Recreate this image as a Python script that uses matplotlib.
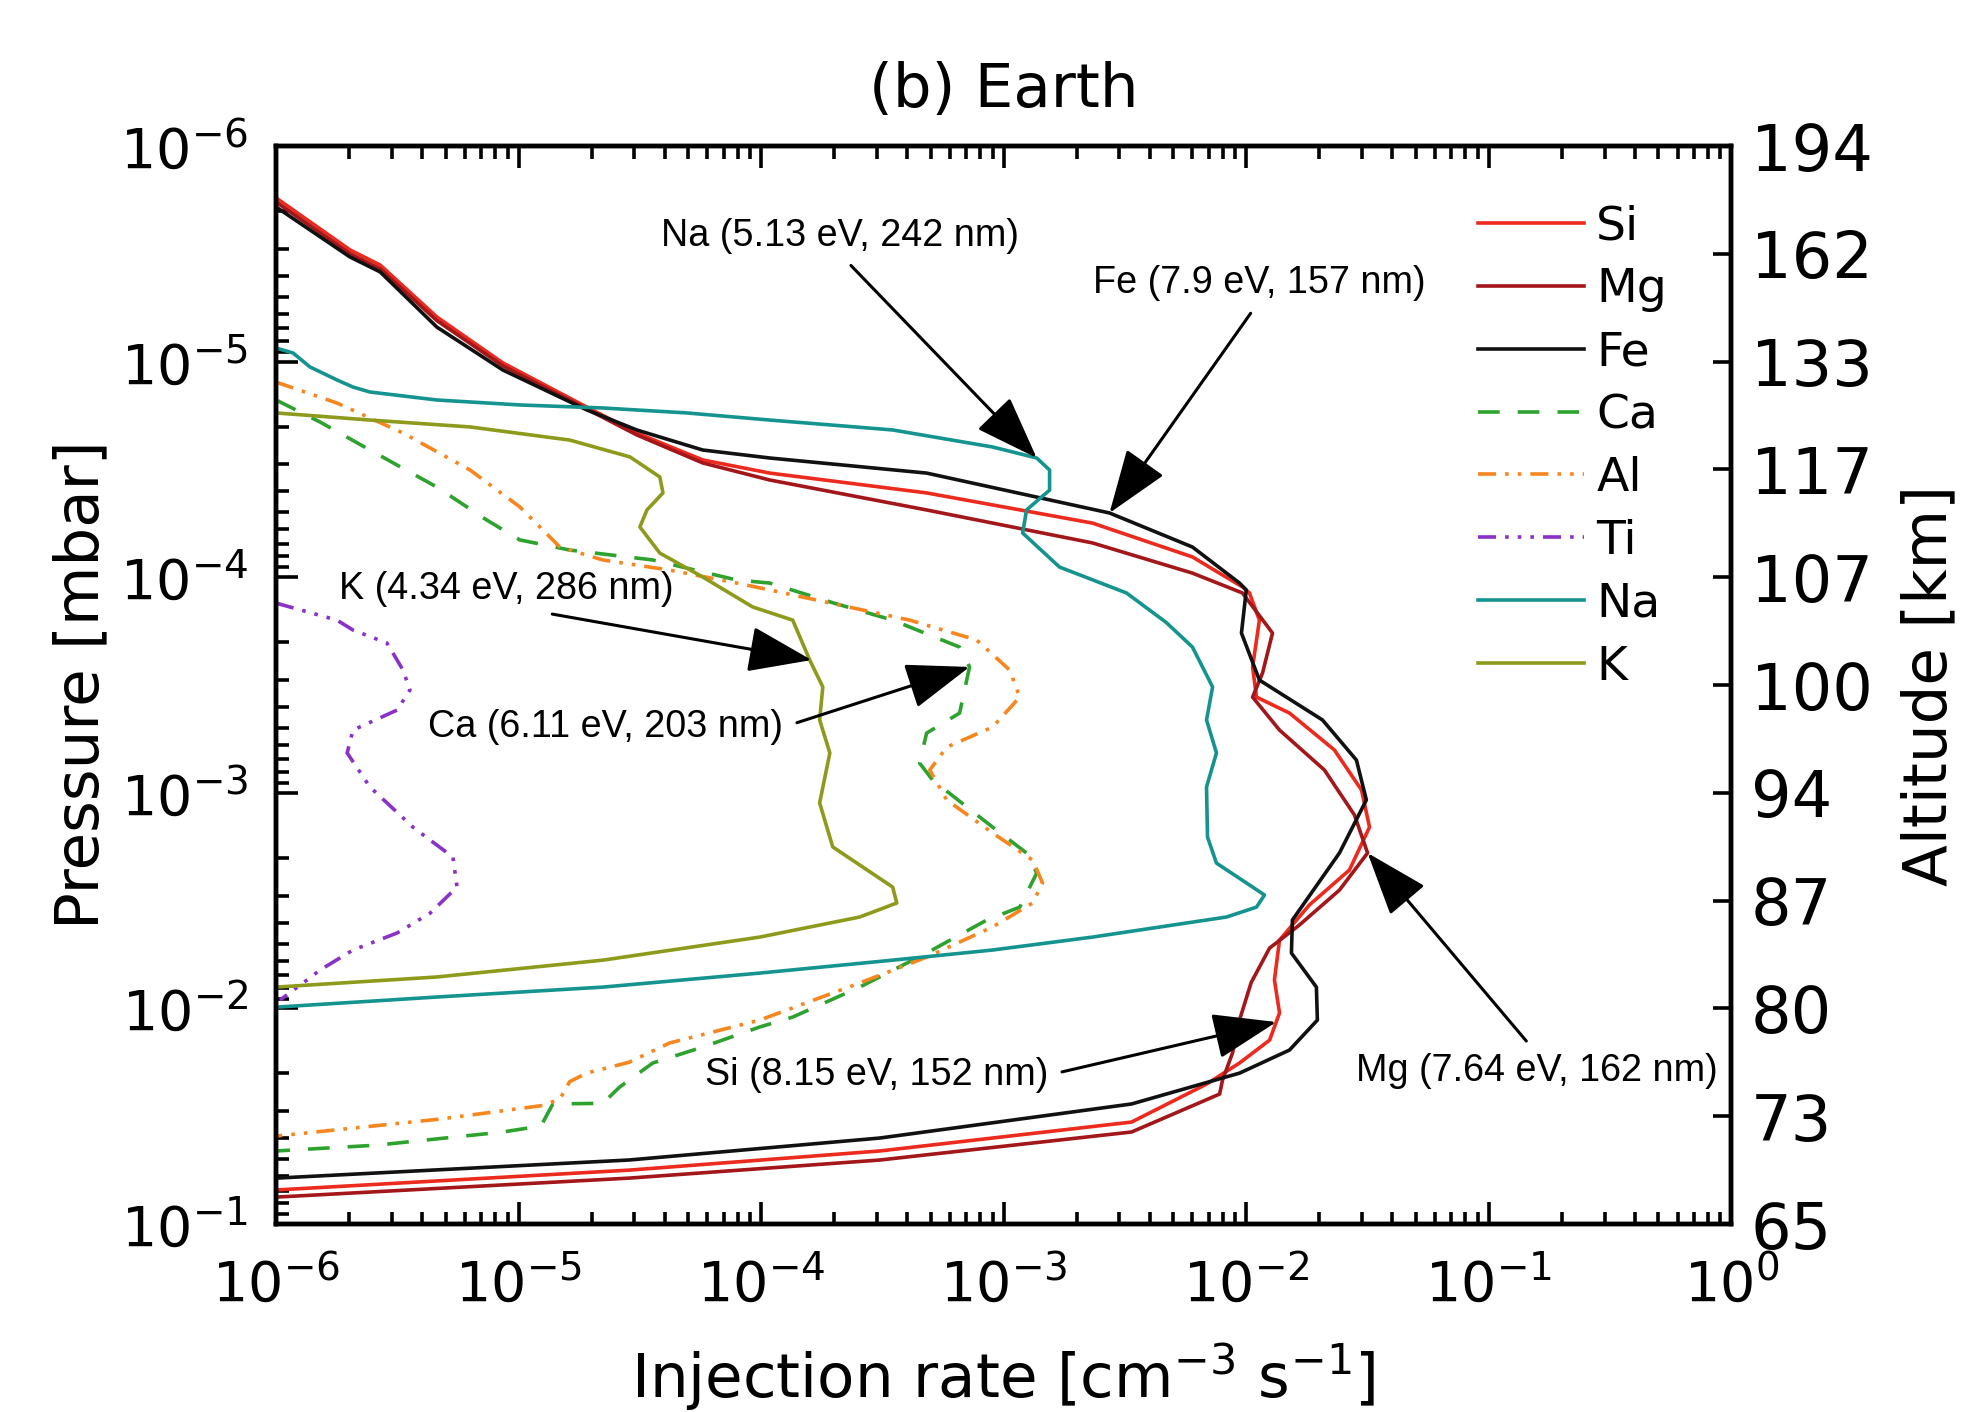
import numpy as np
import matplotlib as mpl
import matplotlib.pyplot as plt

# log10 of injection rate [cm^-3 s^-1] and log10 of pressure [mbar]
si_x = [-6.00, -5.695, -5.571, -5.337, -5.065, -4.719, -4.513, -4.241, -3.965, -3.318, -2.634, -2.222,
        -2.016, -1.987, -1.946, -1.974, -1.958, -1.822, -1.637, -1.525, -1.492, -1.575, -1.740, -1.863,
        -1.884, -1.863, -1.904, -2.028, -2.164, -2.473, -3.511, -4.546, -6.00]
si_p = [-5.759, -5.518, -5.448, -5.207, -4.994, -4.789, -4.669, -4.544, -4.483, -4.391, -4.251, -4.094,
        -3.955, -3.927, -3.801, -3.584, -3.444, -3.370, -3.199, -3.013, -2.841, -2.642, -2.480, -2.317,
        -2.132, -1.979, -1.853, -1.747, -1.649, -1.473, -1.339, -1.250, -1.158]

mg_x = [-6.00, -5.695, -5.571, -5.337, -5.065, -4.719, -4.513, -4.241, -3.965, -3.318, -2.634, -2.222,
        -2.016, -1.892, -1.933, -1.974, -1.863, -1.678, -1.554, -1.500, -1.616, -1.781, -1.904, -1.980,
        -2.028, -2.057, -2.098, -2.110, -2.473, -3.511, -4.546, -6.00]
mg_p = [-5.740, -5.500, -5.430, -5.190, -4.980, -4.780, -4.660, -4.530, -4.451, -4.312, -4.159, -4.019,
        -3.927, -3.741, -3.556, -3.444, -3.291, -3.106, -2.897, -2.721, -2.549, -2.387, -2.280, -2.120,
        -1.946, -1.793, -1.668, -1.603, -1.427, -1.297, -1.213, -1.125]

fe_x = [-6.00, -5.695, -5.571, -5.337, -5.065, -4.719, -4.513, -4.241, -3.965, -3.318, -2.564, -2.222,
        -2.028, -2.000, -2.020, -1.946, -1.686, -1.546, -1.505, -1.616, -1.810, -1.814, -1.711, -1.707,
        -1.822, -2.028, -2.473, -3.511, -4.546, -5.584, -6.00]
fe_p = [-5.717, -5.485, -5.416, -5.160, -4.961, -4.776, -4.683, -4.590, -4.553, -4.483, -4.298, -4.140,
        -3.973, -3.941, -3.741, -3.523, -3.338, -3.152, -2.967, -2.721, -2.410, -2.257, -2.099, -1.946,
        -1.807, -1.700, -1.557, -1.399, -1.297, -1.237, -1.213]

ca_x = [-6.00, -5.819, -5.613, -5.337, -5.131, -4.995, -4.789, -4.447, -4.101, -3.965, -3.700, -3.458,
        -3.182, -3.141, -3.182, -3.318, -3.347, -3.293, -3.046, -2.906, -2.864, -2.934, -3.070, -3.318,
        -3.594, -3.870, -4.006, -4.241, -4.447, -4.583, -4.653, -4.859, -4.908, -5.065, -5.584, -6.00]
ca_p = [-4.822, -4.720, -4.590, -4.418, -4.265, -4.173, -4.126, -4.080, -3.987, -3.973, -3.880, -3.801,
        -3.676, -3.584, -3.370, -3.277, -3.138, -3.059, -2.841, -2.721, -2.628, -2.470, -2.410, -2.257,
        -2.099, -1.960, -1.914, -1.821, -1.747, -1.636, -1.560, -1.557, -1.455, -1.427, -1.366, -1.339]

al_x = [-6.00, -5.749, -5.477, -5.200, -4.995, -4.830, -4.653, -4.377, -4.101, -3.965, -3.388, -3.112,
        -2.976, -2.934, -3.046, -3.235, -3.305, -3.235, -3.046, -2.881, -2.840, -2.881, -3.046, -3.318,
        -3.594, -4.006, -4.377, -4.546, -4.720, -4.790, -4.830, -4.900, -5.324, -6.00]
al_p = [-4.905, -4.808, -4.669, -4.497, -4.326, -4.140, -4.080, -4.033, -3.973, -3.941, -3.801, -3.709,
        -3.570, -3.444, -3.305, -3.212, -3.106, -2.967, -2.814, -2.688, -2.582, -2.489, -2.378, -2.238,
        -2.118, -1.946, -1.840, -1.750, -1.700, -1.660, -1.580, -1.550, -1.487, -1.408]

ti_x = [-6.00, -5.749, -5.683, -5.543, -5.477, -5.448, -5.501, -5.683, -5.707, -5.613, -5.436, -5.271,
        -5.254, -5.365, -5.501, -5.683, -5.819, -5.889, -5.984]
ti_p = [-3.880, -3.801, -3.755, -3.695, -3.570, -3.477, -3.384, -3.291, -3.185, -3.027, -2.841, -2.702,
        -2.563, -2.442, -2.350, -2.271, -2.178, -2.118, -2.039]

na_x = [-6.00, -5.930, -5.860, -5.749, -5.683, -5.613, -5.337, -4.995, -4.653, -4.307, -3.965, -3.458,
        -3.046, -2.864, -2.811, -2.811, -2.906, -2.922, -2.770, -2.494, -2.330, -2.222, -2.139, -2.164,
        -2.123, -2.164, -2.160, -2.123, -1.974, -1.925, -1.958, -2.082, -2.634, -3.046, -3.458, -4.006,
        -4.653, -5.337, -6.00]
na_p = [-5.063, -5.040, -4.975, -4.915, -4.882, -4.859, -4.822, -4.799, -4.785, -4.762, -4.729, -4.683,
        -4.604, -4.553, -4.497, -4.404, -4.312, -4.205, -4.047, -3.927, -3.790, -3.676, -3.491, -3.338,
        -3.185, -3.027, -2.795, -2.674, -2.563, -2.526, -2.470, -2.424, -2.331, -2.271, -2.224, -2.164,
        -2.099, -2.053, -2.006]

k_x = [-6.00, -5.613, -5.200, -4.789, -4.541, -4.418, -4.405, -4.471, -4.500, -4.418, -4.241, -4.035,
       -3.870, -3.800, -3.746, -3.759, -3.717, -3.759, -3.705, -3.458, -3.441, -3.594, -4.006, -4.653,
       -5.337, -6.00]
k_p = [-4.762, -4.729, -4.697, -4.636, -4.558, -4.465, -4.391, -4.312, -4.233, -4.112, -4.001, -3.862,
       -3.801, -3.616, -3.491, -3.338, -3.185, -2.953, -2.749, -2.563, -2.489, -2.424, -2.331, -2.224,
       -2.146, -2.099]

species = ['Si', 'Mg', 'Fe', 'Ca', 'Al', 'Ti', 'Na', 'K']
colors = ['#ec2a1e', '#a3161a', '#111111', '#2ea22e', '#f7861e', '#8a32c8', '#15948f', '#8e9a1c']
styles = ['-', '-', '-', (0, (6, 5)), (0, (5, 2.5, 1, 2.5, 1, 2.5)),
          (0, (5, 2.5, 1, 2.5, 1, 2.5, 1, 2.5)), '-', '-']
curves = [(si_x, si_p), (mg_x, mg_p), (fe_x, fe_p), (ca_x, ca_p),
          (al_x, al_p), (ti_x, ti_p), (na_x, na_p), (k_x, k_p)]

# right axis: altitude labels at half-decade pressure steps
alt_logp = [-6.0, -5.5, -5.0, -4.5, -4.0, -3.5, -3.0, -2.5, -2.0, -1.5, -1.0]
alt_km = [194, 162, 133, 117, 107, 100, 94, 87, 80, 73, 65]

# annotations: text, text centre (log x, log p), arrow tip (log x, log p), arrow start on text box
notes = [
    ('Na (5.13 eV, 242 nm)', (-3.676, -5.583), (-2.864, -4.553), (0.5, 0.0)),
    ('Fe (7.9 eV, 157 nm)', (-1.946, -5.365), (-2.564, -4.298), (0.5, 0.0)),
    ('K (4.34 eV, 286 nm)', (-5.052, -3.945), (-3.792, -3.616), (0.52, 0.0)),
    ('Ca (6.11 eV, 203 nm)', (-4.640, -3.305), (-3.141, -3.584), (1.0, 0.5)),
    ('Si (8.15 eV, 152 nm)', (-3.524, -1.691), (-1.876, -1.937), (1.0, 0.5)),
    ('Mg (7.64 eV, 162 nm)', (-0.804, -1.710), (-1.500, -2.721), (0.5, 1.0)),
]

plt.rcParams['font.family'] = ['DejaVu Sans']
plt.rcParams['mathtext.default'] = 'regular'

fig = plt.figure(figsize=(9.86, 7.06), dpi=200)
ax = fig.add_axes([0.140, 0.1331, 0.738, 0.7635])

for name, (lx, lp), c, ls in zip(species, curves, colors, styles):
    ax.plot(10 ** np.array(lx), 10 ** np.array(lp), color=c, ls=ls, lw=1.3, label=name)

ax.set_xscale('log')
ax.set_yscale('log')
ax.set_xlim(1e-6, 1e0)
ax.set_ylim(1e-1, 1e-6)

for sp in ax.spines.values():
    sp.set_linewidth(1.6)
ax.tick_params(axis='both', which='both', direction='in', width=1.3, labelsize=20)
ax.tick_params(axis='both', which='major', length=8)
ax.tick_params(axis='both', which='minor', length=4.5)
ax.tick_params(axis='x', which='both', top=True, bottom=True, pad=12)
ax.tick_params(axis='y', which='both', left=True, right=False, pad=10)
ax.xaxis.set_minor_locator(mpl.ticker.LogLocator(base=10, subs=np.arange(2, 10), numticks=20))
ax.yaxis.set_minor_locator(mpl.ticker.LogLocator(base=10, subs=np.arange(2, 10), numticks=20))
ax.xaxis.set_minor_formatter(mpl.ticker.NullFormatter())
ax.yaxis.set_minor_formatter(mpl.ticker.NullFormatter())

ax.set_xlabel('Injection rate [cm$^{-3}$ s$^{-1}$]', fontsize=22, labelpad=10)
ax.set_ylabel('Pressure [mbar]', fontsize=22, labelpad=3)
ax.set_title('(b) Earth', fontsize=22, pad=14)

ax2 = ax.twinx()
ax2.set_yscale('log')
ax2.set_ylim(1e-1, 1e-6)
ax2.set_yticks(10 ** np.array(alt_logp))
ax2.set_yticklabels([str(a) for a in alt_km])
ax2.yaxis.set_minor_locator(mpl.ticker.NullLocator())
ax2.tick_params(axis='y', direction='in', length=6.5, width=1.3, labelsize=23, pad=7)
ax2.set_ylabel('Altitude [km]', fontsize=22, labelpad=10)
for sp in ax2.spines.values():
    sp.set_linewidth(1.6)

leg = ax.legend(loc='upper left', bbox_to_anchor=(0.826, 0.946), frameon=False, fontsize=17,
                handlelength=2.25, handletextpad=0.25, labelspacing=0.38,
                borderpad=0, borderaxespad=0)

for txt, (tx, ty), (hx, hy), rp in notes:
    ax.annotate(txt, xy=(10 ** hx, 10 ** hy), xytext=(10 ** tx, 10 ** ty),
                ha='center', va='center', fontsize=13.6, family=['Liberation Sans', 'DejaVu Sans'],
                arrowprops=dict(arrowstyle='-|>,head_length=1.0,head_width=0.36', color='black',
                                lw=1.1, relpos=rp, shrinkA=3, shrinkB=0, mutation_scale=20))

fig.savefig('out.png', dpi=200)
